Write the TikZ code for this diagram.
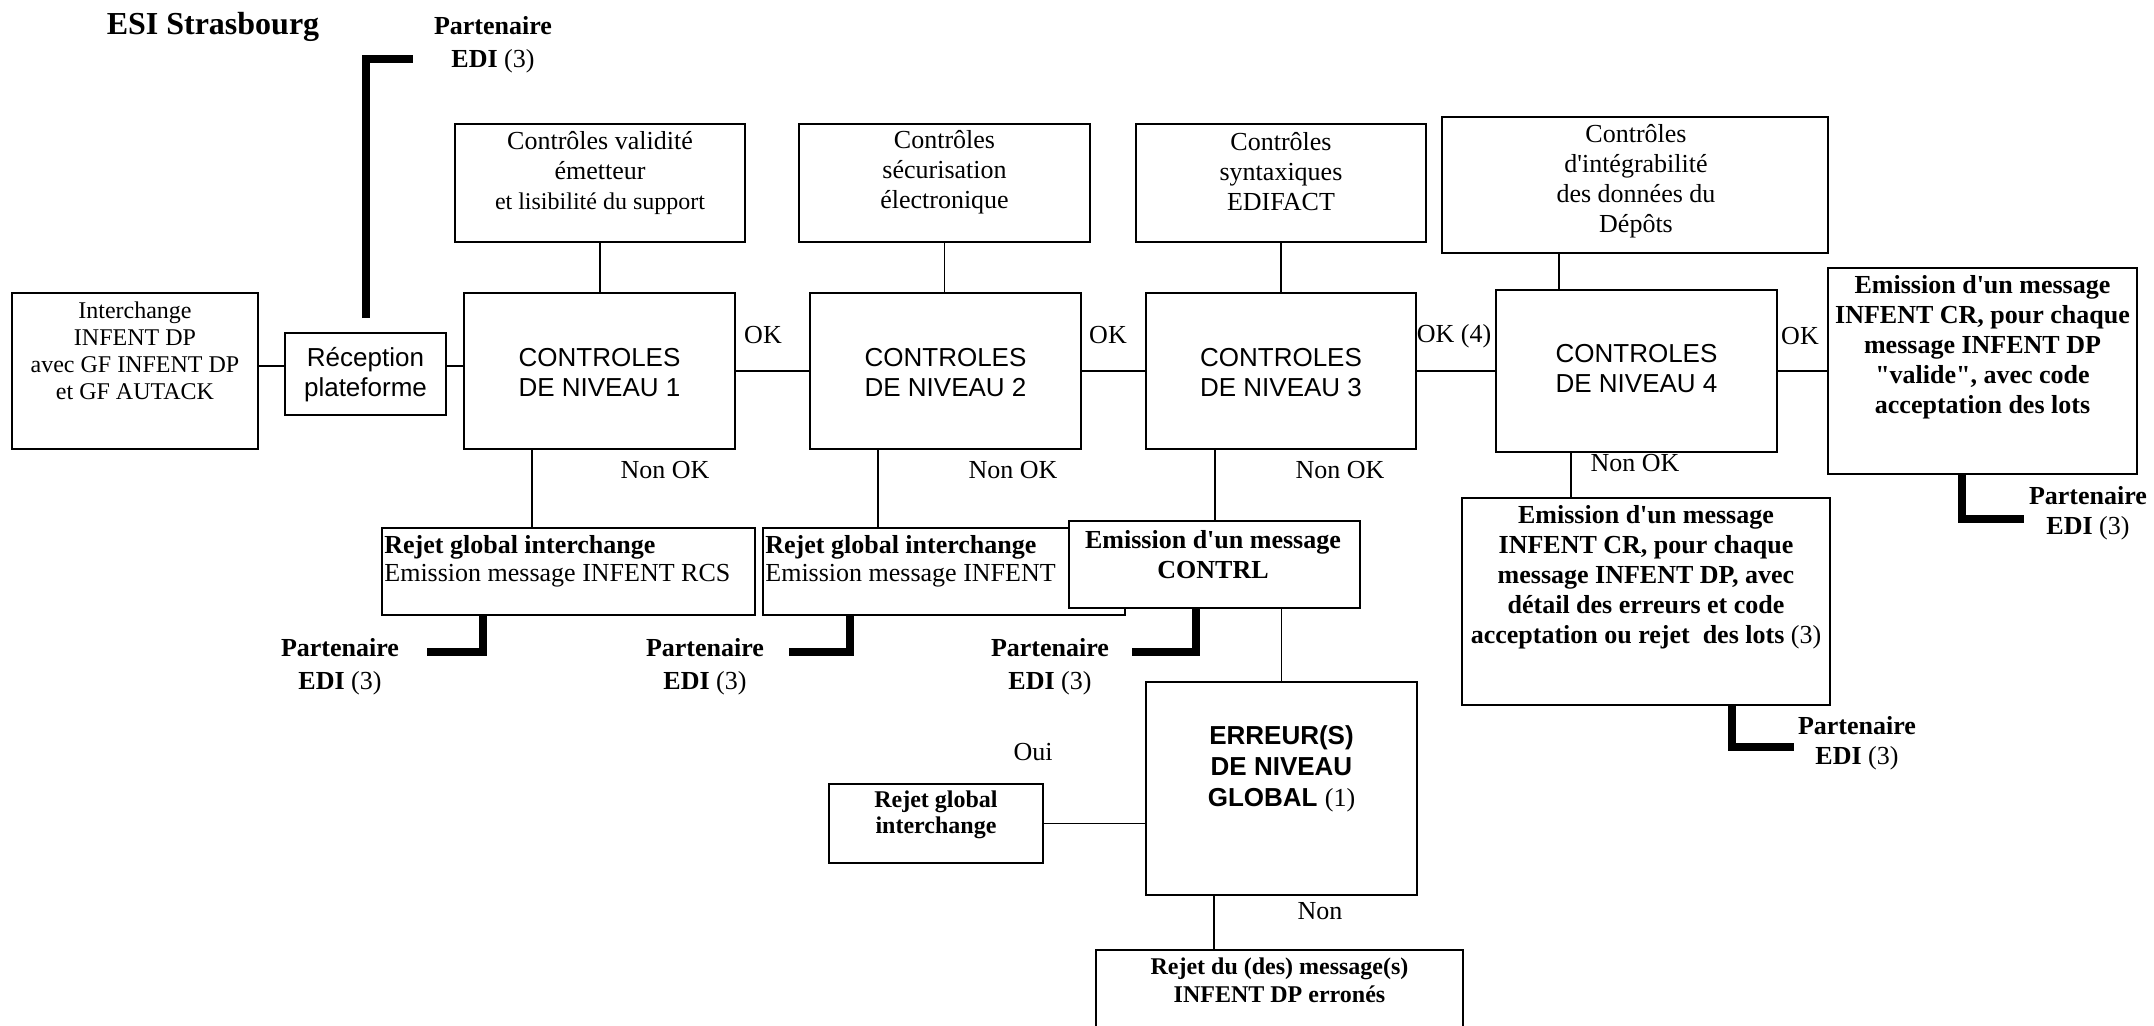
\documentclass[tikz,border=0pt]{standalone}
\usepackage{fontspec}
\setmainfont{Liberation Serif}[Ligatures=TeXOff]
\setsansfont{Liberation Sans}
\begin{document}
\begin{tikzpicture}[x=0.5pt,y=-0.5pt,
  box/.style={draw,line width=0.85pt,inner sep=0pt,fill=white},
  conn/.style={line width=0.7pt},
  partner/.style={line width=4pt},
  lbl/.style={inner sep=0pt,align=center,font=\fontsize{13}{15}\selectfont},
  bl/.style={inner sep=0pt,align=center,font=\bfseries\fontsize{13}{15}\selectfont},
  sf/.style={inner sep=0pt,align=center,font=\sffamily\fontsize{13}{15}\selectfont},
  ptxt/.style={inner sep=0pt,align=center,font=\fontsize{13}{16.5}\selectfont},
]
\useasboundingbox (0,0) rectangle (2154,1026);
\clip (0,0) rectangle (2154,1026);

% title
\node[inner sep=0pt,font=\bfseries\fontsize{16}{19}\selectfont] (title) at (213,27) {ESI Strasbourg};

% boxes
\node[box,minimum width=123pt,minimum height=78pt] (inter) at (135,371) {};
\node[box,minimum width=80.5pt,minimum height=41pt] (rec) at (365.5,374) {};
\node[box,minimum width=145pt,minimum height=59pt] (val) at (600,183) {};
\node[box,minimum width=135.5pt,minimum height=78pt] (c1) at (599.5,371) {};
\node[box,minimum width=145.5pt,minimum height=59pt] (sec) at (944.5,183) {};
\node[box,minimum width=135.5pt,minimum height=78pt] (c2) at (945.5,371) {};
\node[box,minimum width=145pt,minimum height=59pt] (syn) at (1281,183) {};
\node[box,minimum width=135pt,minimum height=78pt] (c3) at (1281,371) {};
\node[box,minimum width=193pt,minimum height=68pt] (dep) at (1635,185) {};
\node[box,minimum width=140.5pt,minimum height=81pt] (c4) at (1636.5,371) {};
\node[box,minimum width=154.5pt,minimum height=103pt] (emr) at (1982.5,371) {};
\node[box,minimum width=184pt,minimum height=103.5pt] (emb) at (1646,601.5) {};
\node[box,minimum width=186.5pt,minimum height=43.5pt] (rej1) at (568.5,571.5) {};
\node[box,minimum width=181pt,minimum height=43.5pt] (rej2) at (944,571.5) {};
\node[box,minimum width=135.5pt,minimum height=106.5pt] (err) at (1281.5,788.5) {};
\node[box,minimum width=107pt,minimum height=39.5pt] (rg) at (936,823.5) {};
\node[box,minimum width=183.5pt,minimum height=60pt] (rdu) at (1279.5,1010) {};

% box texts
\node[inner sep=0pt,align=center,font=\fontsize{12}{13.5}\selectfont] (inter-t) at (135,351) {Interchange\\INFENT DP\\avec GF INFENT DP\\et GF AUTACK};
\node[sf] (rec-t) at (365.5,375) {Réception\\plateforme};
\node[lbl] (val-t) at (600,173) {Contrôles validité\\émetteur\\{\fontsize{12}{15}\selectfont et lisibilité du support}};
\node[sf] (c1-t) at (599.5,373) {CONTROLES\\DE NIVEAU 1};
\node[lbl] (sec-t) at (944.5,172) {Contrôles\\sécurisation\\électronique};
\node[sf] (c2-t) at (945.5,373) {CONTROLES\\DE NIVEAU 2};
\node[lbl] (syn-t) at (1281,172) {Contrôles\\syntaxiques\\EDIFACT};
\node[sf] (c3-t) at (1281,373) {CONTROLES\\DE NIVEAU 3};
\node[lbl] (dep-t) at (1636,181) {Contrôles\\d'intégrabilité\\des données du\\Dépôts};
\node[sf] (c4-t) at (1636.5,369) {CONTROLES\\DE NIVEAU 4};
\node[bl] (emr-t) at (1982.5,347) {Emission d'un message\\INFENT CR, pour chaque\\message INFENT DP\\"valide", avec code\\acceptation des lots};
\node[bl] (emb-t) at (1646,577) {Emission d'un message\\INFENT CR, pour chaque\\message INFENT DP, avec\\détail des erreurs et code\\acceptation ou rejet~ des lots \mdseries(3)};
\node[inner sep=0pt,align=left,anchor=west,font=\fontsize{13}{14}\selectfont] (rej1-t) at (384,561) {\textbf{Rejet global interchange}\\Emission message INFENT RCS};
\node[inner sep=0pt,align=left,anchor=west,font=\fontsize{13}{14}\selectfont] (rej2-t) at (765,561) {\textbf{Rejet global interchange}\\Emission message INFENT};
\node[box,minimum width=145.5pt,minimum height=43.5pt] (contrl) at (1214.5,564.5) {};
\node[bl] (contrl-t) at (1213,555) {Emission d'un message\\CONTRL};
\node[inner sep=0pt,align=center,font=\sffamily\bfseries\fontsize{13}{15.5}\selectfont] (err-t) at (1281.5,769) {ERREUR(S)\\DE NIVEAU\\GLOBAL {\rmfamily\mdseries(1)}};
\node[inner sep=0pt,align=center,font=\bfseries\fontsize{12}{13}\selectfont] (rg-t) at (936,815) {Rejet global\\interchange};
\node[inner sep=0pt,align=center,font=\bfseries\fontsize{12}{14}\selectfont] (rdu-t) at (1279.5,980) {Rejet du (des) message(s)\\INFENT DP erronés};

% labels
\node[lbl] (ok1) at (763,335) {OK};
\node[lbl] (ok2) at (1108,335) {OK};
\node[lbl] (ok3) at (1454,336) {OK (4)};
\node[lbl] (ok4) at (1800,336) {OK};
\node[lbl] (nok1) at (665,470) {Non OK};
\node[lbl] (nok2) at (1013,470) {Non OK};
\node[lbl] (nok3) at (1340,470) {Non OK};
\node[lbl] (nok4) at (1635,463) {Non OK};
\node[lbl] (oui) at (1033,752) {Oui};
\node[lbl] (non) at (1320,911) {Non};

% partenaire labels
\node[ptxt] (p0) at (493,44.5) {\textbf{Partenaire}\\\textbf{EDI} (3)};
\node[ptxt] (p1) at (340,666.5) {\textbf{Partenaire}\\\textbf{EDI} (3)};
\node[ptxt] (p2) at (705,666.5) {\textbf{Partenaire}\\\textbf{EDI} (3)};
\node[ptxt] (p3) at (1050,666.5) {\textbf{Partenaire}\\\textbf{EDI} (3)};
\node[lbl] (p4) at (2088,513) {\textbf{Partenaire}\\\textbf{EDI} (3)};
\node[lbl] (p5) at (1857,743) {\textbf{Partenaire}\\\textbf{EDI} (3)};
\coordinate (p0end) at (413,59);
\coordinate (p1end) at (427,652);
\coordinate (p2end) at (789,652);
\coordinate (p3end) at (1132,652);
\coordinate (p4end) at (2024,519);
\coordinate (p5end) at (1794,747);

% horizontal connectors
\draw[conn] ([yshift=4pt]rec.west -| inter.east) -- ([yshift=4pt]rec.west);
\draw[conn] ([yshift=4pt]rec.east) -- ([yshift=4pt]rec.east -| c1.west);
\draw[conn] (c1.east) -- (c2.west);
\draw[conn] (c2.east) -- (c3.west);
\draw[conn] (c3.east) -- (c4.west);
\draw[conn] (c4.east) -- (c4.east -| emr.west);

% vertical connectors
\draw[conn] (val.south) -- (val.south |- c1.north);
\draw[conn] (sec.south) -- (sec.south |- c2.north);
\draw[conn] (syn.south) -- (c3.north);
\draw[conn] ([xshift=-38pt]dep.south) -- ([xshift=-38pt]dep.south |- c4.north);
\draw[conn] ([xshift=-33.75pt]c1.south) -- ([xshift=-33.75pt]c1.south |- rej1.north);
\draw[conn] ([xshift=-33.75pt]c2.south) -- ([xshift=-33.75pt]c2.south |- rej2.north);
\draw[conn] ([xshift=-33pt]c3.south) -- ([xshift=-33pt]c3.south |- contrl.north);
\draw[conn] ([xshift=-32.75pt]c4.south) -- ([xshift=-32.75pt]c4.south |- emb.north);
\draw[conn] (contrl.south -| err.north) -- (err.north);
\draw[conn] ([xshift=-33.75pt]err.south) -- ([xshift=-33.75pt]err.south |- rdu.north);
\draw[conn] (err.west |- rg.east) -- (rg.east);

% partenaire connectors
\draw[partner] ([yshift=7pt]rec.north) |- (p0end);
\draw[partner] ([xshift=-42.75pt]rej1.south) |- (p1end);
\draw[partner] ([xshift=-47pt]rej2.south) |- (p2end);
\draw[partner] ([xshift=-9.25pt]contrl.south) |- (p3end);
\draw[partner] ([xshift=-10.25pt]emr.south) |- (p4end);
\draw[partner] ([xshift=43pt]emb.south) |- (p5end);
\end{tikzpicture}
\end{document}
